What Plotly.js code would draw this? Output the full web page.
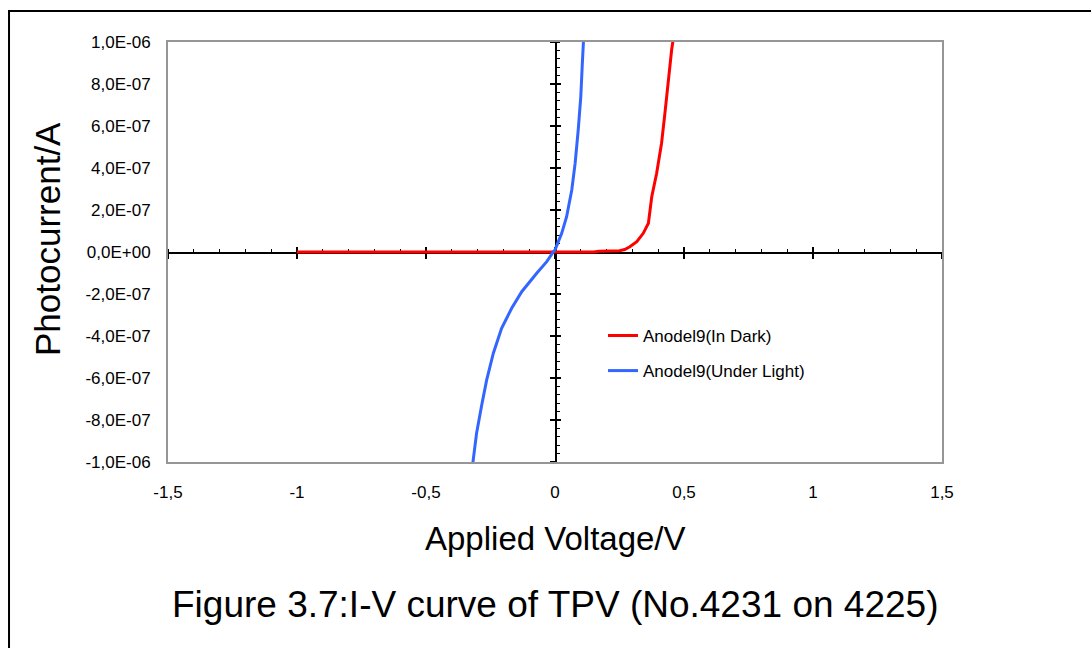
<!DOCTYPE html>
<html>
<head>
<meta charset="utf-8">
<script src="https://cdn.plot.ly/plotly-3.0.1.min.js"></script>
<style>
  html, body { margin: 0; padding: 0; background: #ffffff; }
  #chart { width: 1091px; height: 648px; }
</style>
</head>
<body>
<div id="chart"></div>
<script>
// ---- Data ----
const darkName = "Anodel9(In Dark)";
const darkV = [-1.0, -0.8, -0.6, -0.4, -0.2, 0.0, 0.1, 0.15, 0.17, 0.2, 0.25, 0.27, 0.29, 0.317, 0.342, 0.362, 0.375, 0.394, 0.413, 0.426, 0.439, 0.452, 0.459];
const darkI = [0, 0, 0, 0, 0, 0, 0, 0, 0.004e-6, 0.005e-6, 0.006e-6, 0.012e-6, 0.025e-6, 0.049e-6, 0.089e-6, 0.137e-6, 0.263e-6, 0.375e-6, 0.518e-6, 0.66e-6, 0.819e-6, 0.962e-6, 1.02e-6];

const lightName = "Anodel9(Under Light)";
const lightV = [-0.32, -0.304, -0.284, -0.265, -0.239, -0.207, -0.168, -0.129, -0.071, -0.032, -0.007, 0.0, 0.026, 0.045, 0.065, 0.078, 0.090, 0.100, 0.106, 0.111];
const lightI = [-1.02e-6, -0.863e-6, -0.729e-6, -0.61e-6, -0.482e-6, -0.363e-6, -0.268e-6, -0.189e-6, -0.101e-6, -0.046e-6, 0.0, 0.01e-6, 0.089e-6, 0.168e-6, 0.295e-6, 0.422e-6, 0.581e-6, 0.74e-6, 0.9e-6, 1.02e-6];

const xTickVals = [-1.5, -1, -0.5, 0, 0.5, 1, 1.5];
const xTickText = ["-1,5", "-1", "-0,5", "0", "0,5", "1", "1,5"];
const yTickVals = [1e-6, 8e-7, 6e-7, 4e-7, 2e-7, 0, -2e-7, -4e-7, -6e-7, -8e-7, -1e-6];
const yTickText = ["1,0E-06", "8,0E-07", "6,0E-07", "4,0E-07", "2,0E-07", "0,0E+00", "-2,0E-07", "-4,0E-07", "-6,0E-07", "-8,0E-07", "-1,0E-06"];

const xTitle = "Applied Voltage/V";
const yTitle = "Photocurrent/A";
const caption = "Figure 3.7:I-V curve of TPV (No.4231 on 4225)";

const FONT = "Arial, 'Liberation Sans', sans-serif";
const xRange = [-1.5, 1.5];
const yRange = [-1e-6, 1e-6];

const traces = [
  { x: darkV, y: darkI, name: darkName, type: "scatter", mode: "lines",
    line: { color: "#FF0000", width: 3 }, legendgroup: "a", xaxis: "x", yaxis: "y", hoverinfo: "skip" },
  { x: lightV, y: lightI, name: lightName, type: "scatter", mode: "lines",
    line: { color: "#3366FF", width: 3 }, legendgroup: "b", xaxis: "x", yaxis: "y", hoverinfo: "skip" },
  // carriers for the zero-crossing axes
  { x: [], y: [], xaxis: "x2", yaxis: "y", showlegend: false, hoverinfo: "skip" },
  { x: [], y: [], xaxis: "x3", yaxis: "y", showlegend: false, hoverinfo: "skip" },
  { x: [], y: [], xaxis: "x", yaxis: "y2", showlegend: false, hoverinfo: "skip" },
  { x: [], y: [], xaxis: "x", yaxis: "y3", showlegend: false, hoverinfo: "skip" }
];

const zeroX = {
  overlaying: "x", anchor: "free", position: 0.5, range: xRange, fixedrange: true,
  showline: true, linecolor: "#000000", linewidth: 1.5, layer: "below traces",
  showgrid: false, zeroline: false, showticklabels: false,
  tickmode: "linear", tick0: 0, dtick: 0.5, ticklen: 5, tickwidth: 1.5, tickcolor: "#000000"
};
const zeroY = {
  overlaying: "y", anchor: "free", position: 0.5, side: "left", range: yRange, fixedrange: true,
  showline: true, linecolor: "#000000", linewidth: 1.5, layer: "below traces",
  showgrid: false, zeroline: false, showticklabels: false,
  tickmode: "linear", tick0: 0, dtick: 2e-7, ticklen: 5, tickwidth: 1.5, tickcolor: "#000000"
};

const layout = {
  width: 1091, height: 648,
  margin: { l: 168, r: 149, t: 42, b: 186, pad: 0 },
  paper_bgcolor: "#ffffff", plot_bgcolor: "#ffffff",
  font: { family: FONT, color: "#000000", size: 17 },
  showlegend: true,
  legend: { x: 0.562, y: 0.343, xanchor: "left", yanchor: "top",
            bgcolor: "rgba(0,0,0,0)", borderwidth: 0, tracegroupgap: 10,
            font: { family: FONT, size: 17, color: "#000000" } },
  xaxis: {
    range: xRange, fixedrange: true, showgrid: false, zeroline: false,
    showline: true, mirror: true, linecolor: "#969696", linewidth: 2,
    tickmode: "array", tickvals: xTickVals, ticktext: xTickText,
    ticks: "", ticklabelstandoff: 14, tickfont: { family: FONT, size: 17 }
  },
  yaxis: {
    range: yRange, fixedrange: true, showgrid: false, zeroline: false,
    showline: true, mirror: true, linecolor: "#969696", linewidth: 2,
    tickmode: "array", tickvals: yTickVals, ticktext: yTickText,
    ticks: "", ticklabelstandoff: 12, tickfont: { family: FONT, size: 17 }
  },
  xaxis2: Object.assign({}, zeroX, { ticks: "outside",
    minor: { ticks: "inside", dtick: 0.1, tick0: 0, ticklen: 3, tickwidth: 1, tickcolor: "#000000" } }),
  xaxis3: Object.assign({}, zeroX, { ticks: "inside", showline: false }),
  yaxis2: Object.assign({}, zeroY, { ticks: "outside",
    minor: { ticks: "inside", dtick: 4e-8, tick0: 0, ticklen: 3, tickwidth: 1, tickcolor: "#000000" } }),
  yaxis3: Object.assign({}, zeroY, { ticks: "inside", showline: false }),
  annotations: [
    { text: yTitle, xref: "paper", yref: "paper", x: -0.155, y: 0.531, textangle: -90,
      showarrow: false, xanchor: "center", yanchor: "middle", font: { family: FONT, size: 35 } },
    { text: xTitle, xref: "paper", yref: "paper", x: 0.5, y: -0.183,
      showarrow: false, xanchor: "center", yanchor: "middle", font: { family: FONT, size: 33 } },
    { text: caption, xref: "paper", yref: "paper", x: 0.5, y: -0.340,
      showarrow: false, xanchor: "center", yanchor: "middle", font: { family: FONT, size: 37 } }
  ],
  shapes: [
    { type: "rect", xref: "paper", yref: "paper", x0: -0.2054, x1: 1.2, y0: -0.46, y1: 1.0738,
      line: { color: "#000000", width: 2 }, fillcolor: "rgba(0,0,0,0)", layer: "below" }
  ]
};

Plotly.newPlot("chart", traces, layout, { staticPlot: true, displayModeBar: false });
</script>
</body>
</html>
